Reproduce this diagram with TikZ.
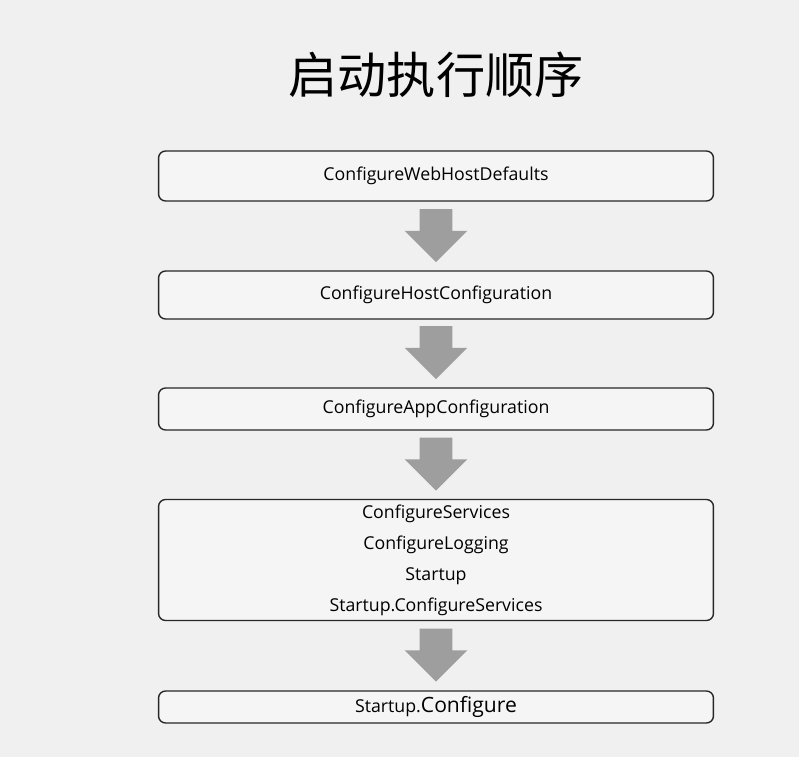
\documentclass[tikz,border=0pt]{standalone}
\usepackage{fontspec}
\setmainfont{Open Sans}
\newfontfamily\cjk{Noto Sans CJK SC}
\usetikzlibrary{positioning,shapes.arrows}

\begin{document}
\begin{tikzpicture}[x=0.02cm,y=-0.02cm,
                    step box/.style={draw=black!85,rounded corners=4pt,line width=0.8pt,
                                     fill=white!96!black,minimum width=11.1cm,
                                     inner sep=0pt,font=\fontsize{10.1}{17.6}\selectfont,align=center},
                    down arrow/.style={single arrow,fill=black!38,draw=none,
                                       shape border rotate=270,inner sep=0.32cm,
                                       single arrow head extend=0.3cm,minimum height=1.06cm}
                   ]
   \fill[black!6] (0,0) rectangle (799,757);
   \useasboundingbox (0,0) rectangle (799,757);
   \node (title) at (436,75) {\cjk\fontsize{28}{30}\selectfont 启动执行顺序};
   \node[step box,minimum height=1.0cm] (defaults) at (436,176) {ConfigureWebHostDefaults};
   \node[step box,minimum height=0.96cm] (hostconf) at (436,295) {ConfigureHostConfiguration};
   \node[step box,minimum height=0.84cm] (appconf) at (436,409) {ConfigureAppConfiguration};
   \node[step box,minimum height=2.42cm] (services) at (436,560)
        {ConfigureServices\\ConfigureLogging\\Startup\\Startup.ConfigureServices};
   \node[step box,minimum height=0.64cm] (configure) at (436,707)
        {Startup.{\fontsize{12}{12}\selectfont Configure}};
   \node[down arrow] (a1) at (436,227.5) {};
   \node[down arrow] (a2) at (436,344.5) {};
   \node[down arrow] (a3) at (436,456) {};
   \node[down arrow] (a4) at (436,647) {};
\end{tikzpicture}
\end{document}
